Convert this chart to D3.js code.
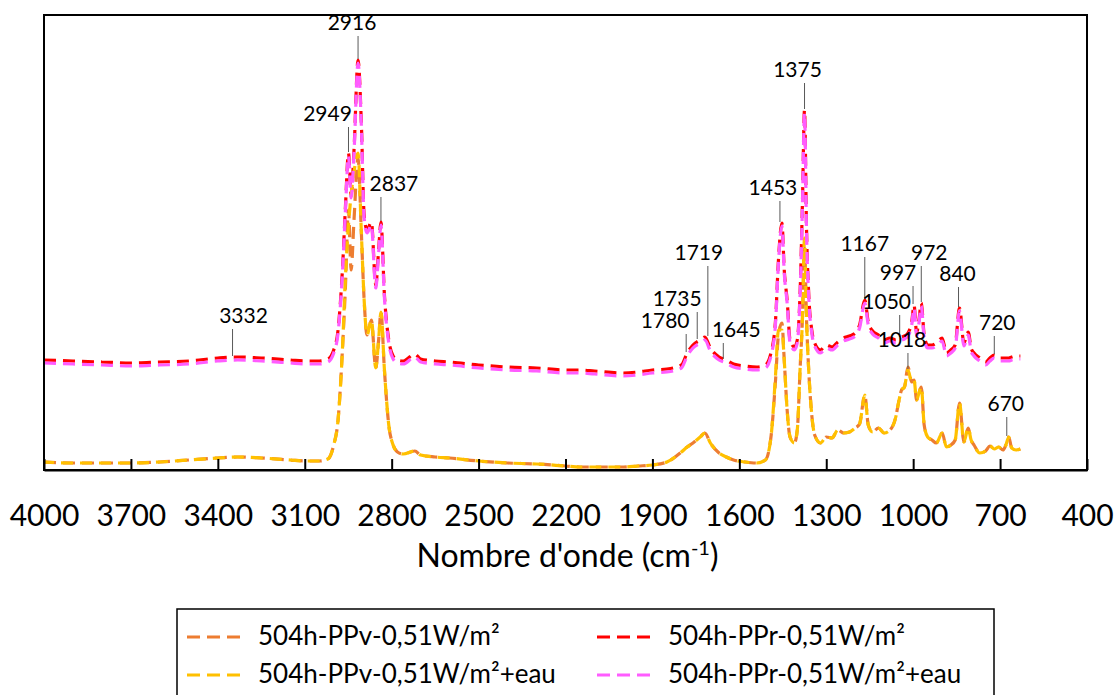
<!DOCTYPE html>
<html><head><meta charset="utf-8">
<script src="https://cdn.jsdelivr.net/npm/d3@7/dist/d3.min.js"></script>
<style>
html,body{margin:0;padding:0;background:#fff;}
svg{display:block;font-family:Lato,"Open Sans",sans-serif;}
</style></head>
<body><svg id="chart" width="1115" height="695"></svg>
<script>
// ---- DATA ----
const wavenumbers = [4000,3900,3800,3700,3600,3500,3400,3332,3250,3150,3100,3050,3020,3000,2985,2970,2960,2949,2940,2930,2916,2905,2895,2885,2870,2855,2845,2837,2825,2810,2795,2780,2760,2720,2700,2650,2600,2500,2400,2300,2200,2150,2100,2000,1950,1900,1850,1800,1780,1760,1735,1719,1700,1670,1645,1620,1580,1540,1510,1490,1475,1465,1453,1445,1435,1425,1410,1400,1390,1382,1375,1368,1360,1350,1340,1320,1300,1280,1260,1240,1220,1200,1185,1167,1155,1140,1120,1100,1080,1060,1050,1040,1030,1018,1005,997,988,980,972,962,950,935,920,900,885,870,855,840,825,810,800,790,770,750,735,720,705,690,680,670,660,645,630];

const ppvValues = [1.6,1.4,1.4,1.4,1.6,2.0,2.4,2.6,2.4,2.0,1.8,1.8,2.2,5.0,10.0,24.0,36.0,52.0,40.0,50.0,62.4,48.0,34.0,27.0,30.0,20.4,26.0,31.6,20.0,9.0,5.0,3.6,3.2,3.8,3.0,2.6,2.4,1.8,1.4,1.2,0.8,0.6,0.6,0.6,0.8,1.0,1.6,3.6,4.6,5.4,6.6,7.4,5.4,3.4,2.6,2.0,1.6,1.4,2.0,7.0,18.0,27.0,29.4,22.0,12.0,6.6,5.4,8.0,20.6,30.6,44.4,30.0,19.4,11.0,7.0,5.4,6.6,6.4,8.0,7.4,7.6,8.4,9.2,15.0,9.0,7.6,8.4,7.4,8.0,10.6,13.6,16.0,16.6,20.6,17.6,18.0,14.0,15.4,16.6,9.0,6.6,6.0,5.4,7.4,4.6,5.0,6.0,13.4,5.6,8.4,6.0,5.0,3.4,3.8,4.8,4.2,4.6,4.0,5.0,6.6,4.4,4.0,4.2];

const pprValues = [22.0,21.8,21.6,21.4,21.6,21.8,22.4,22.6,22.4,22.0,21.8,21.8,22.2,24.0,28.0,40.0,52.0,63.4,55.0,64.0,82.0,70.0,51.0,48.0,49.6,37.0,44.0,49.6,35.0,26.0,22.8,22.0,21.8,23.2,22.2,21.8,21.6,21.0,20.6,20.4,20.0,20.0,19.8,19.4,19.6,20.0,20.2,21.0,23.4,25.0,26.0,26.6,24.4,22.6,22.0,21.2,20.8,20.6,21.0,23.6,30.0,42.0,49.4,40.0,34.0,26.0,24.6,26.0,36.0,54.0,72.0,48.0,34.6,28.0,25.4,24.0,25.0,24.6,25.6,26.4,26.8,27.4,29.0,34.0,29.6,27.8,27.0,26.0,26.4,26.0,26.4,26.6,26.8,27.4,29.6,33.0,27.4,30.0,33.4,27.0,25.0,25.0,25.4,26.4,23.4,24.0,25.0,32.4,25.4,27.6,24.4,23.4,22.4,21.6,22.4,23.0,22.4,22.4,22.4,22.4,22.6,22.8,22.8];

const ppvEauValues = [1.6,1.4,1.4,1.4,1.6,2.0,2.4,2.6,2.4,2.0,1.8,1.8,2.2,5.0,10.0,24.0,38.0,49.0,55.0,59.6,63.4,48.0,34.0,27.0,30.0,20.4,26.0,31.6,20.0,9.0,5.0,3.6,3.2,3.8,3.0,2.6,2.4,1.8,1.4,1.2,0.8,0.6,0.6,0.6,0.8,1.0,1.6,3.6,4.6,5.4,6.6,7.4,5.4,3.4,2.6,2.0,1.6,1.4,2.0,7.0,19.0,28.0,28.0,22.0,12.0,6.6,5.4,8.0,20.6,30.6,46.4,30.0,19.4,11.0,7.0,5.4,6.6,6.4,8.0,7.4,7.6,8.4,9.2,15.0,9.0,7.6,8.4,7.4,8.0,10.6,13.6,16.0,16.6,20.0,17.6,18.0,14.0,15.4,16.6,9.0,6.6,6.0,5.4,7.4,4.6,5.0,6.0,13.4,5.6,8.4,6.0,5.0,3.4,3.8,4.8,4.2,4.6,4.0,5.0,6.6,4.4,4.0,4.2];

const pprEauValues = [21.4,21.2,21.0,20.8,21.0,21.2,21.8,22.0,21.8,21.4,21.2,21.2,21.6,23.4,27.4,39.4,51.4,62.8,54.4,63.4,81.4,69.4,50.4,47.4,49.0,36.4,43.4,49.0,34.4,25.4,22.2,21.4,21.2,22.6,21.6,21.2,21.0,20.4,20.0,19.8,19.4,19.4,19.2,18.8,19.0,19.4,19.6,20.4,22.8,24.4,25.4,26.0,23.8,22.0,21.4,20.6,20.2,20.0,20.4,23.0,29.4,41.4,48.8,39.4,33.4,25.4,24.0,25.4,35.4,53.4,71.4,47.4,34.0,27.4,24.8,23.4,24.4,24.0,25.0,25.8,26.2,26.8,28.4,33.4,29.0,27.2,26.4,25.4,25.8,25.4,25.8,26.0,26.2,26.8,29.0,32.4,26.8,29.4,32.8,26.4,24.4,24.4,24.8,25.8,22.8,23.4,24.4,31.8,24.8,27.0,23.8,22.8,21.8,21.0,21.8,22.4,21.8,21.8,21.8,21.8,22.0,22.2,22.2];

const seriesNames = ["504h-PPv-0,51W/m²","504h-PPr-0,51W/m²","504h-PPv-0,51W/m²+eau","504h-PPr-0,51W/m²+eau"];
const tickValues = [4000,3700,3400,3100,2800,2500,2200,1900,1600,1300,1000,700,400];

// peak annotations: wavenumber, label, which spectrum ("r" upper, "v" lower)
const peakWn     = [3332,2949,2916,2837,1780,1735,1719,1645,1453,1375,1167,1050,997,972,840,720,1018,670];
const peakLabels = ["3332","2949","2916","2837","1780","1735","1719","1645","1453","1375","1167","1050","997","972","840","720","1018","670"];
const peakSeries = ["r","r","r","r","r","r","r","r","r","r","r","r","r","r","r","r","v","v"];

// ---- LAYOUT / STYLE ----
const plot = {left:44, right:1087, top:15, bottom:470};
const colors = ["#ED7D31","#FF0000","#FFC000","#FF5CFF"];
const dashOffsets = [0, 0, 2, 0];
// leader line length and text x-offset per annotation
const annLen = [27,25,23,24,18,27,70,16,21,26,42,22,18,36,20,18,16,19];
const annDx  = [11,-21,-6,13,-21,-20,-9,13,-7,-7,0,-13,-15,8,-1,3,-6,-1];
const annXShift = [-5,0,0,0,-1,-3,3,-3,-2,0,0,1,-1,0,-1,0,0,-2];

const svg = d3.select("#chart");
const x = d3.scaleLinear().domain([4000,400]).range([plot.left, plot.right]);
const y = d3.scaleLinear().domain([0,91]).range([plot.bottom, plot.top]);

const allValues = [ppvValues, pprValues, ppvEauValues, pprEauValues];
const line = d3.line()
  .x(d => x(d[0])).y(d => y(d[1]))
  .curve(d3.curveMonotoneX);

allValues.forEach((vals, i) => {
  const pts = wavenumbers.map((w, k) => [w, vals[k]]);
  svg.append("path")
    .attr("d", line(pts))
    .attr("fill","none")
    .attr("stroke", colors[i])
    .attr("stroke-width", 3.2)
    .attr("stroke-dasharray","12,7")
    .attr("stroke-dashoffset", dashOffsets[i])
    .attr("stroke-linecap","butt");
});

// frame
svg.append("rect")
  .attr("x", plot.left).attr("y", plot.top)
  .attr("width", plot.right-plot.left).attr("height", plot.bottom-plot.top)
  .attr("fill","none").attr("stroke","#000").attr("stroke-width",2);

// x axis with inward ticks
const axis = d3.axisBottom(x).tickValues(tickValues).tickSizeInner(-11).tickSizeOuter(0).tickPadding(0).tickFormat(d3.format("d"));
const gx = svg.append("g").attr("transform",`translate(0,${plot.bottom})`).call(axis);
gx.select(".domain").attr("stroke","#000").attr("stroke-width",2);
gx.selectAll(".tick line").attr("stroke","#000").attr("stroke-width",2);
gx.selectAll(".tick text")
  .attr("y", 56).attr("dy", null)
  .attr("fill","#000")
  .style("font-family","Lato, 'Open Sans', sans-serif")
  .style("font-size","30px");

// axis title
const title = svg.append("text")
  .attr("x", (plot.left+plot.right)/2 + 2).attr("y", 567)
  .attr("text-anchor","middle")
  .style("font-size","32px").attr("fill","#000");
title.append("tspan").text("Nombre d'onde (cm");
title.append("tspan").text("-1").attr("dy",-12).style("font-size","20px");
title.append("tspan").text(")").attr("dy",12);

// annotations
function valueAt(series, wn){
  const k = wavenumbers.indexOf(wn);
  return series === "r" ? pprValues[k] : ppvEauValues[k];
}
peakWn.forEach((wn, i) => {
  const px = x(wn) + annXShift[i];
  const yb = y(valueAt(peakSeries[i], wn)) - 1;
  const yt = yb - annLen[i];
  svg.append("line")
    .attr("x1", px).attr("x2", px).attr("y1", yb).attr("y2", yt)
    .attr("stroke","#595959").attr("stroke-width",1);
  svg.append("text")
    .attr("x", px + annDx[i]).attr("y", yt - 6)
    .attr("text-anchor","middle")
    .style("font-size","21px").attr("fill","#000")
    .text(peakLabels[i]);
});

// legend
const leg = svg.append("g");
leg.append("rect").attr("x",177).attr("y",609).attr("width",817).attr("height",110)
  .attr("fill","#fff").attr("stroke","#000").attr("stroke-width",1.5);
const legPos = [[187,637],[597,637],[187,675],[597,675]];
seriesNames.forEach((name, i) => {
  const [lx, ly] = legPos[i];
  leg.append("line").attr("x1",lx).attr("x2",lx+54).attr("y1",ly).attr("y2",ly)
    .attr("stroke",colors[i]).attr("stroke-width",3).attr("stroke-dasharray","13,7");
  leg.append("text").attr("x", lx+71).attr("y", ly+8)
    .style("font-size","26px").attr("fill","#000").text(name);
});
</script></body></html>
